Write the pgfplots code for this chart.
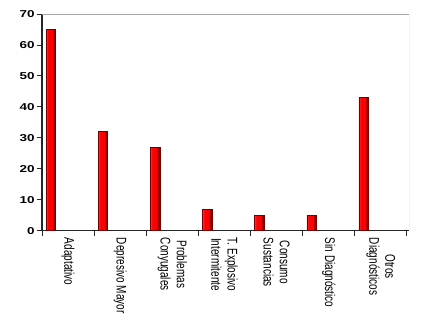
\documentclass[border=0pt]{standalone}
\usepackage{fontspec}
\setmainfont{Liberation Sans}
\usepackage{pgfplots}
\pgfplotsset{compat=1.18}
\pgfdeclarehorizontalshading{barshade}{100bp}{color(0bp)=(red!80!white); color(25bp)=(red!80!white); color(35bp)=(red); color(58bp)=(red); color(64bp)=(red!60!black); color(75bp)=(red!45!black); color(100bp)=(red!45!black)}
\begin{document}
\begin{tikzpicture}
\begin{axis}[
  scale only axis, width=367pt, height=216.7pt,
  xmin=0, xmax=7.04, ymin=0, ymax=70,
  axis x line*=bottom, axis y line*=left,
  axis line style={line width=1.1pt, black!85, -},
  /pgf/number format/assume math mode=true,
  ytick={0,10,...,70},
  yticklabel style={font=\fontsize{10}{12}\selectfont\bfseries, xscale=1.35, inner sep=1.5pt},
  xtick={0,1,...,7},
  xticklabels={,,,,,,,},
  tick align=outside,
  major tick length=5pt,
  tick style={black!85, line width=0.9pt},
  extra x ticks={0.5,1.5,...,6.5},
  extra x tick labels={Adaptativo, Depresivo Mayor, {Problemas\\Conyugales}, {T. Explosivo\\Intermitente}, {Consumo\\Sustancias}, Sin Diagnóstico, {Otros\\Diagnósticos}},
  extra x tick style={major tick length=0pt, xticklabel style={font=\fontsize{10}{11.5}\selectfont, xscale=1.4, rotate=-90, anchor=west, align=center, inner sep=0pt, xshift=7pt}},
  bar/.style={ybar, bar width=9.5pt, bar shift=0pt, draw=red!45!black, line width=0.5pt,
  shading=barshade, forget plot},
]
\draw[black!35, line width=0.9pt] (rel axis cs:0,1) -- (rel axis cs:1,1) -- (rel axis cs:1,0);
\addplot[bar] coordinates {(0.17,65)};
\addplot[bar] coordinates {(1.17,32)};
\addplot[bar] coordinates {(2.17,27)};
\addplot[bar] coordinates {(3.17,7)};
\addplot[bar] coordinates {(4.17,5)};
\addplot[bar] coordinates {(5.17,5)};
\addplot[bar] coordinates {(6.17,43)};
\end{axis}
\path ([xshift=-42pt,yshift=-92pt]current axis.south west) rectangle ([xshift=21pt,yshift=14pt]current axis.north east);
\end{tikzpicture}
\end{document}
